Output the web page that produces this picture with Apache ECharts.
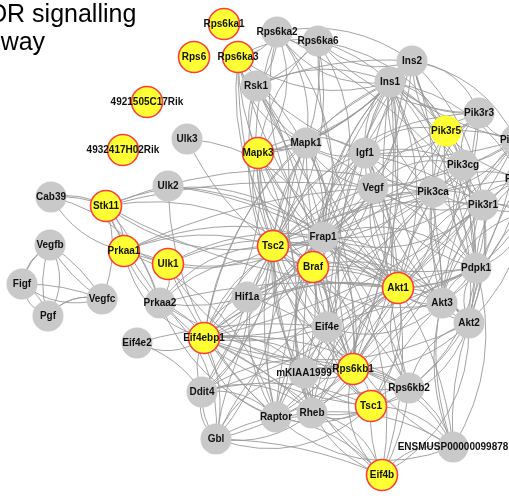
<!DOCTYPE html>
<html>
<head>
<meta charset="utf-8">
<script src="https://cdn.jsdelivr.net/npm/echarts@6/dist/echarts.min.js"></script>
<style>
  html, body { margin: 0; padding: 0; background: #fff; }
  #chart { width: 509px; height: 496px; }
</style>
</head>
<body>
<div id="chart"></div>
<script>
// Gene names, their layout positions and which ones are highlighted
const genes = [
  'Rps6ka1','Rps6','Rps6ka3','4921505C17Rik','4932417H02Rik','Ulk3','Rsk1','Rps6ka2','Rps6ka6',
  'Ins2','Ins1','Pik3r3','Pik3r5','Mapk3','Mapk1','Igf1','Pik3cg','Pik3cb','Pik3cd','Pik3r2',
  'Cab39','Stk11','Ulk2','Vegfb','Prkaa1','Ulk1','Figf','Vegfc','Pgf','Prkaa2','Hif1a',
  'Vegf','Pik3ca','Pik3r1','Frap1','Tsc2','Braf','Pdpk1','Akt1','Akt3','Akt2','Eif4e',
  'Eif4e2','Eif4ebp1','mKIAA1999','Rps6kb1','Ddit4','Raptor','Rheb','Gbl','Rps6kb2','Tsc1',
  'ENSMUSP00000099878','Eif4b'
];
const posX = [
  224,194,238,147,123,187,256,277,318,
  412,390,479,446,258,306,365,463,516,521,525,
  51,106,168,50,124,168,22,102,48,160,247,
  373,433,483,323,273,313,476,398,442,469,327,
  137,204,304,353,202,276,312,216,409,371,
  453,382
];
const posY = [
  24,57,57,102,150,139,86,32,41,
  61,82,113,131,153,143,153,165,140,179,212,
  197,206,186,245,251,264,284,299,316,303,297,
  188,192,205,237,246,267,268,288,303,323,327,
  343,338,373,369,392,417,413,439,388,406,
  447,475
];
// 'hit' = yellow with red ring, 'plain' = yellow without ring, '' = grey
const kind = [
  'hit','hit','hit','hit','hit','','','','',
  '','','','plain','hit','','','','','','',
  '','hit','','','hit','hit','','','','','',
  '','','','','hit','hit','','hit','','','',
  '','hit','','hit','','','','','','hit',
  '','hit'
];

// Interactions, listed per source gene
const interactions = {
  'Cab39': ['Stk11','Prkaa1','Prkaa2'],
  'Stk11': ['Cab39','Prkaa1','Ulk1','Prkaa2','Vegfc','Tsc2','Frap1','Akt1','Braf','Tsc1','Vegf','Pik3ca'],
  'Vegfb': ['Figf','Pgf','Vegfc'],
  'Figf': ['Vegfb','Pgf','Vegfc'],
  'Pgf': ['Vegfb','Figf','Vegfc'],
  'Vegfc': ['Vegfb','Figf','Pgf'],
  'Prkaa1': ['Ulk1','Tsc2','Frap1','Akt1','Prkaa2','Raptor','Eif4ebp1','Vegf'],
  'Ulk1': ['Frap1','Tsc2','Akt1','Raptor','Prkaa2','Rps6kb1'],
  'Ulk2': ['Frap1','Akt1','Raptor'],
  'Ulk3': ['Frap1','Tsc2'],
  'Prkaa2': ['Tsc2','Frap1','Akt1','Eif4ebp1','Raptor','Braf','Rps6kb1','Gbl'],
  'Eif4e2': ['Eif4ebp1','Eif4e','Ddit4'],
  'Hif1a': ['Frap1','Akt1','Tsc2','Vegf','Eif4ebp1','Ddit4','Rps6kb1','Pik3ca'],
  'Eif4ebp1': ['Frap1','Eif4e','Akt1','Raptor','Rheb','Gbl','Ddit4','mKIAA1999','Rps6kb1','Tsc1','Tsc2','Braf',
               'Mapk1','Mapk3','Pik3ca','Pik3r1','Ins1','Igf1','Eif4b','Rps6kb2','Akt2','Akt3','Pdpk1'],
  'Ddit4': ['Raptor','Gbl','Frap1','Tsc1','Tsc2','Rheb','Akt1','Rps6kb1','Hif1a'],
  'Gbl': ['Raptor','Frap1','Rheb','mKIAA1999','Rps6kb1','Akt1','Tsc1','Eif4b','Ddit4','Tsc2'],
  'Raptor': ['Frap1','Rheb','mKIAA1999','Rps6kb1','Rps6kb2','Eif4b','Tsc1','Tsc2','Akt1','Eif4e',
             'ENSMUSP00000099878','Braf','Mapk1','Mapk3','Pdpk1','Pik3ca'],
  'Rheb': ['Frap1','Tsc1','Tsc2','Rps6kb1','Rps6kb2','Eif4b','mKIAA1999','Akt1','Braf','Eif4e',
           'ENSMUSP00000099878','Ins1','Igf1','Pik3r1'],
  'mKIAA1999': ['Frap1','Rps6kb1','Akt1','Tsc2','Tsc1','Eif4e','Braf','Rps6kb2','Eif4b','Pik3ca','Ins1'],
  'Rps6kb1': ['Frap1','Akt1','Tsc2','Tsc1','Eif4b','Rps6kb2','Pdpk1','Akt2','Akt3','Eif4e','ENSMUSP00000099878',
              'Braf','Mapk1','Mapk3','Rps6ka3','Rsk1','Ins1','Ins2','Igf1','Pik3r1','Pik3ca','Pik3cg','Vegf'],
  'Rps6kb2': ['Frap1','Akt1','Tsc1','Eif4b','ENSMUSP00000099878','Pdpk1','Akt2','Tsc2','Eif4e','Pik3r1','Ins1'],
  'Tsc1': ['Tsc2','Akt1','Frap1','Eif4b','ENSMUSP00000099878','Akt2','Akt3','Braf'],
  'Eif4b': ['Frap1','ENSMUSP00000099878','Akt1','Tsc2','Akt2'],
  'ENSMUSP00000099878': ['Akt2','Akt3','Pdpk1','Frap1','Akt1','Pik3r1'],
  'Eif4e': ['Frap1','Akt1','Tsc2','Braf','Mapk1','Mapk3','Pik3ca','Akt3','Ins1'],
  'Tsc2': ['Frap1','Braf','Akt1','Mapk1','Mapk3','Rsk1','Rps6ka3','Rps6ka2','Rps6ka6','Ins1','Ins2','Igf1','Vegf',
           'Pik3ca','Pik3r1','Pik3cg','Pik3r3','Pdpk1','Akt2','Akt3'],
  'Frap1': ['Braf','Akt1','Mapk1','Mapk3','Rsk1','Rps6ka2','Rps6ka6','Rps6ka3','Ins1','Ins2','Igf1','Vegf',
            'Pik3ca','Pik3r1','Pik3cg','Pik3r3','Pik3r5','Pdpk1','Akt2','Akt3','Pik3cb','Pik3cd'],
  'Braf': ['Akt1','Mapk1','Mapk3','Rsk1','Rps6ka3','Rps6ka2','Igf1','Ins1','Vegf','Akt3'],
  'Akt1': ['Pdpk1','Akt2','Akt3','Mapk1','Mapk3','Ins1','Ins2','Igf1','Vegf','Pik3ca','Pik3r1','Pik3cg',
           'Pik3r3','Pik3r5','Pik3cb','Pik3cd','Pik3r2','Rsk1','Rps6ka6'],
  'Akt2': ['Akt3','Pdpk1','Pik3r1','Pik3ca','Pik3cb','Pik3cd','Pik3r2','Ins1','Igf1','Pik3cg'],
  'Akt3': ['Pdpk1','Pik3r1','Pik3ca','Pik3cb','Pik3cd','Pik3r2','Ins1','Ins2','Igf1','Vegf'],
  'Pdpk1': ['Pik3r1','Pik3ca','Pik3cg','Pik3cb','Pik3cd','Pik3r2','Pik3r3','Pik3r5','Ins1','Igf1','Vegf'],
  'Pik3ca': ['Pik3r1','Pik3cg','Pik3r5','Pik3r3','Pik3cb','Pik3cd','Pik3r2'],
  'Pik3r1': ['Pik3cg','Pik3cb','Pik3cd','Pik3r2'],
  'Pik3cg': ['Pik3r5','Pik3r3','Pik3cb'],
  'Pik3r3': ['Pik3r5','Pik3cb'],
  'Pik3r5': ['Pik3cb'],
  'Pik3cb': ['Pik3cd'],
  'Pik3cd': ['Pik3r2'],
  'Ins1': ['Ins2','Igf1','Vegf','Pik3ca','Pik3r1','Pik3cg','Pik3r3','Pik3r5','Pik3cb','Pik3cd','Pik3r2',
           'Mapk1','Mapk3','Rsk1','Rps6ka2','Rps6ka6','Rps6ka3'],
  'Ins2': ['Igf1','Pik3ca','Pik3r1','Pik3cg','Pik3r3','Pik3r5','Pik3cb','Pik3cd','Mapk1','Mapk3',
           'Rps6ka2','Rps6ka6','Rsk1'],
  'Igf1': ['Vegf','Pik3ca','Pik3r1','Pik3cg','Pik3r3','Pik3r5','Pik3cb','Mapk1','Mapk3','Rsk1'],
  'Vegf': ['Pik3ca','Pik3r1','Pik3cg','Pik3cb','Mapk1','Mapk3'],
  'Mapk1': ['Mapk3','Rsk1','Rps6ka2','Rps6ka3','Rps6ka6'],
  'Mapk3': ['Rsk1','Rps6ka2','Rps6ka3','Rps6ka6'],
  'Rsk1': ['Rps6ka2','Rps6ka3','Rps6ka6'],
  'Rps6ka2': ['Rps6ka3','Rps6ka6','Pik3r1'],
  'Rps6ka3': ['Rps6ka6'],
  'Rps6ka6': ['Pik3r3','Pik3cg']
};

const YELLOW = '#ffff33';
const GREY = '#c9c9c9';
const RING = '#ff3b3b';

const nodes = genes.map((g, i) => {
  const k = kind[i];
  return {
    name: g,
    value: [posX[i], posY[i]],
    itemStyle: k === 'hit'
      ? { color: YELLOW, borderColor: RING, borderWidth: 1.6 }
      : k === 'plain'
        ? { color: YELLOW, borderWidth: 0 }
        : { color: GREY, borderWidth: 0 }
  };
});

// alternate the bend of the edges so parallel ones fan out
const bends = [0.18, -0.22, 0.3, -0.12, 0.25, -0.3, 0.1];
const links = [];
Object.keys(interactions).forEach(src => {
  interactions[src].forEach(dst => {
    links.push({
      source: src,
      target: dst,
      lineStyle: { curveness: bends[links.length % bends.length] }
    });
  });
});

const chart = echarts.init(document.getElementById('chart'), null, { renderer: 'canvas' });
chart.setOption({
  animation: false,
  backgroundColor: '#ffffff',
  grid: { left: 0, right: 0, top: 0, bottom: 0, containLabel: false },
  xAxis: { type: 'value', min: 0, max: 509, show: false },
  yAxis: { type: 'value', min: 0, max: 496, inverse: true, show: false },
  graphic: [{
    type: 'text',
    left: -48,
    top: 1,
    style: {
      text: 'mTOR signalling\npathway',
      font: '25px Arial, "Liberation Sans", sans-serif',
      lineHeight: 28,
      fill: '#000'
    },
    z: 10
  }],
  series: [{
    type: 'graph',
    coordinateSystem: 'cartesian2d',
    layout: 'none',
    symbol: 'circle',
    symbolSize: 31,
    data: nodes,
    links: links,
    edgeSymbol: ['none', 'none'],
    lineStyle: { color: '#999999', width: 1, opacity: 0.9 },
    label: {
      show: true,
      position: 'inside',
      color: '#111',
      fontWeight: 'bold',
      fontSize: 10,
      fontFamily: 'Arial, "Liberation Sans", sans-serif'
    },
    emphasis: { disabled: true }
  }]
});
</script>
</body>
</html>
